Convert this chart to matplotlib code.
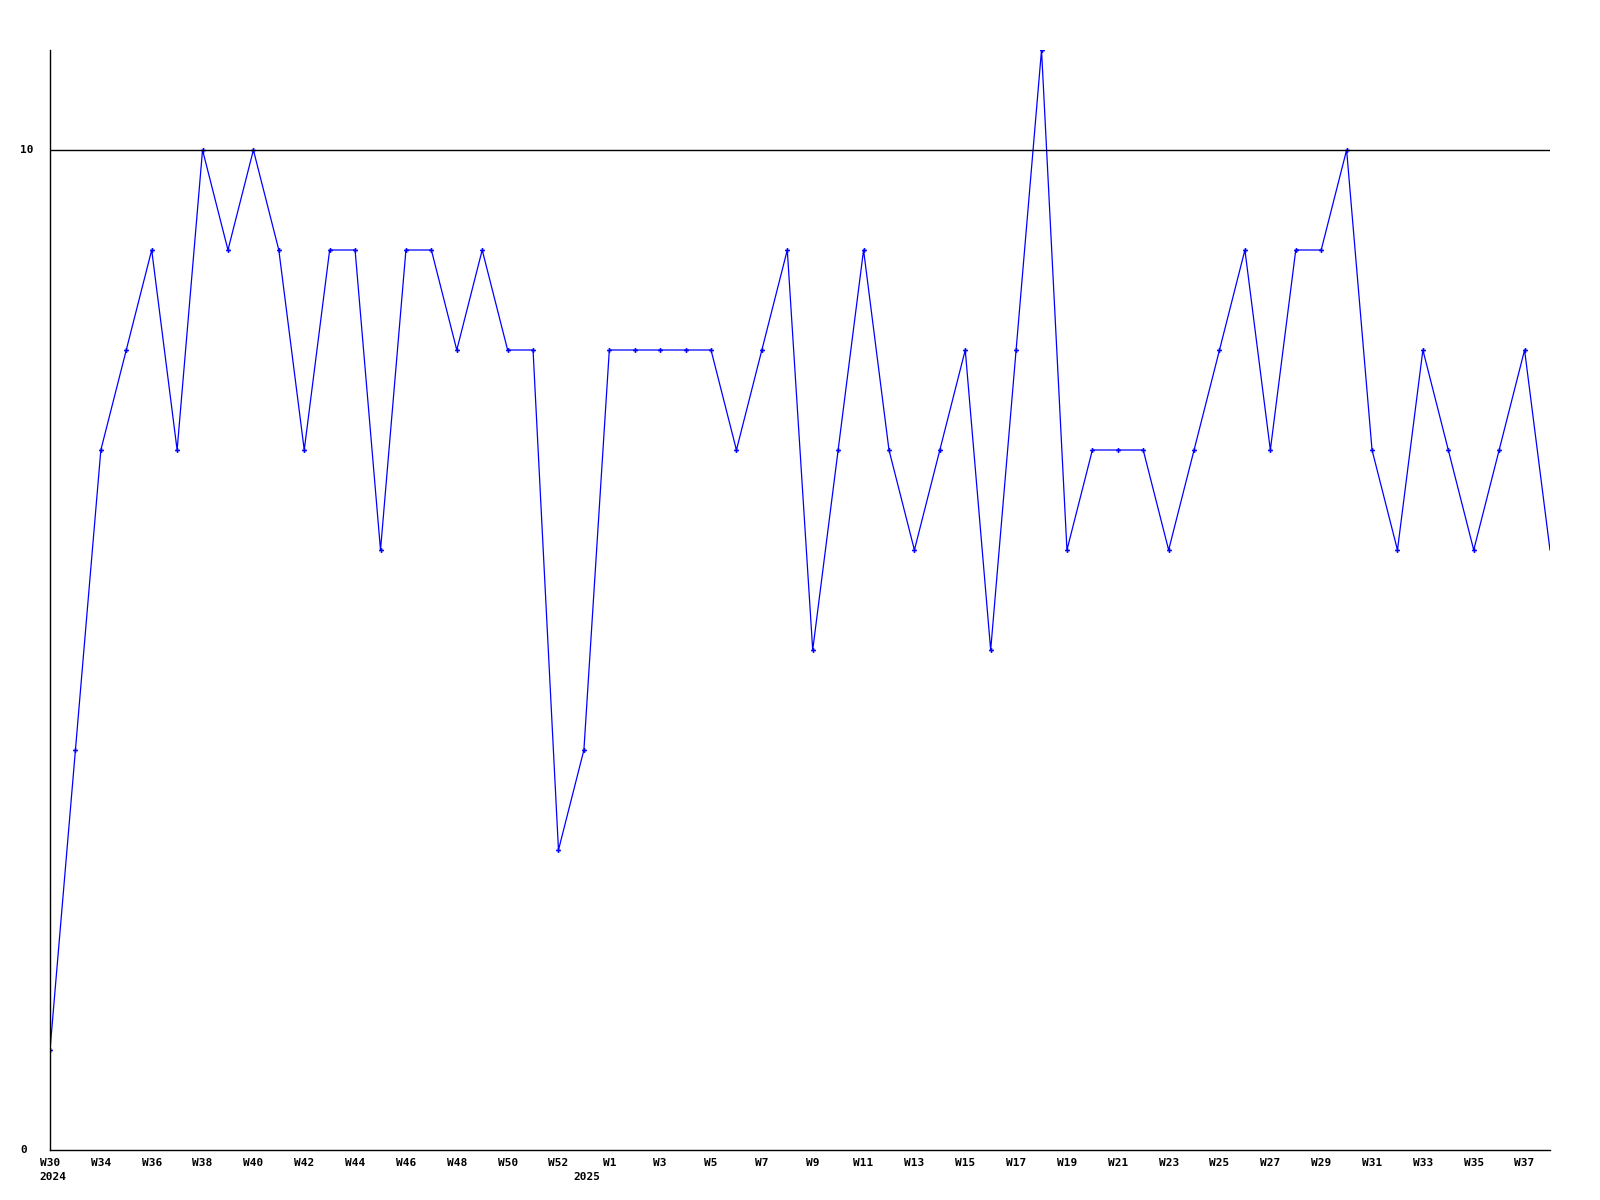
import matplotlib
matplotlib.use('Agg')
import matplotlib.pyplot as plt
import matplotlib.transforms as mtransforms

# weekly values, W30 2024 .. W38 2025
weeks = ['W30', 'W31', 'W32', 'W33', 'W34', 'W35', 'W36', 'W37', 'W38', 'W39',
         'W40', 'W41', 'W42', 'W43', 'W44', 'W45', 'W46', 'W47', 'W48', 'W49',
         'W50', 'W51', 'W52', 'W53', 'W1', 'W2', 'W3', 'W4', 'W5', 'W6',
         'W7', 'W8', 'W9', 'W10', 'W11', 'W12', 'W13', 'W14', 'W15', 'W16',
         'W17', 'W18', 'W19', 'W20', 'W21', 'W22', 'W23', 'W24', 'W25', 'W26',
         'W27', 'W28', 'W29', 'W30', 'W31', 'W32', 'W33', 'W34', 'W35', 'W36']
values = [1, 4, 7, 8, 9, 7, 10, 9, 10, 9,
          7, 9, 9, 6, 9, 9, 8, 9, 8, 8,
          3, 4, 8, 8, 8, 8, 8, 7, 8, 9,
          5, 7, 9, 7, 6, 7, 8, 5, 8, 11,
          6, 7, 7, 7, 6, 7, 8, 9, 7, 9,
          9, 10, 7, 6, 8, 7, 6, 7, 8, 6]

tick_pos = [0, 2, 4, 6, 8, 10, 12, 14, 16, 18, 20, 22, 24, 26, 28, 30, 32, 34, 36, 38,
            40, 42, 44, 46, 48, 50, 52, 54, 56, 58]
tick_labels = ['W30', 'W34', 'W36', 'W38', 'W40', 'W42', 'W44', 'W46', 'W48', 'W50',
               'W52', 'W1', 'W3', 'W5', 'W7', 'W9', 'W11', 'W13', 'W15', 'W17',
               'W19', 'W21', 'W23', 'W25', 'W27', 'W29', 'W31', 'W33', 'W35', 'W37']
years = ['2024', '2025']
year_pos = [0.1, 21.1]

x = list(range(len(values)))

fig = plt.figure(figsize=(16, 12), dpi=100)
ax = fig.add_axes([50/1600, 50/1200, 1500/1600, 1100/1200])

ax.plot(x, values, c='#0000ff', lw=0.9, marker='P', ms=3.5, mew=0,
        markevery=list(range(len(values) - 1)))
ax.axhline(10, c='black', lw=1)

ax.set_xlim(0, len(values) - 1)
ax.set_ylim(0, 11)
for s in ['top', 'right']:
    ax.spines[s].set_visible(False)
for s in ['left', 'bottom']:
    ax.spines[s].set_linewidth(1)

font = dict(family='DejaVu Sans Mono', weight='bold', size=8)
ax.set_xticks(tick_pos)
ax.set_xticklabels(tick_labels, ha='center', **font)
ax.tick_params(axis='x', length=0, pad=6)
ax.set_yticks([])

trans = mtransforms.blended_transform_factory(ax.transData, ax.transAxes)
for yr, p in zip(years, year_pos):
    ax.text(p, -0.0245, yr, transform=trans, ha='center', va='center', **font)

ytrans = mtransforms.blended_transform_factory(fig.transFigure, ax.transData)
for v in [0, 10]:
    ax.text(20/1600, v, str(v), transform=ytrans, ha='left', va='center', **font)

plt.savefig('out.png')
